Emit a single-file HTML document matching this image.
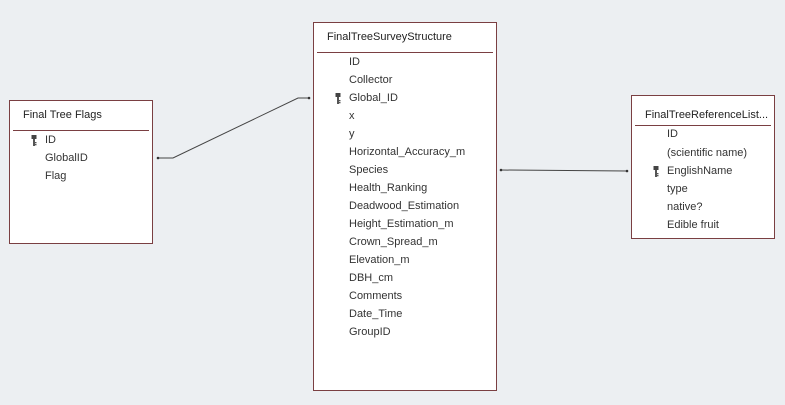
<!DOCTYPE html>
<html><head><meta charset="utf-8"><style>
html,body{margin:0;padding:0;}
body{width:785px;height:405px;background:#eceff2;position:relative;overflow:hidden;font-family:"Liberation Sans",sans-serif;font-size:11px;color:#333;}
.box{position:absolute;background:#fff;border:1px solid #7a3f42;box-sizing:border-box;}
.t{position:absolute;font-size:11px;color:#222;white-space:nowrap;}
.hr{position:absolute;height:1px;background:#7a3f42;}
.r{position:absolute;white-space:nowrap;line-height:14px;}
.k{position:absolute;width:6px;height:11px;}
</style></head><body>
<svg width="785" height="405" style="position:absolute;left:0;top:0">
<polyline points="158,158 173,158 298,98 309,98" fill="none" stroke="#444" stroke-width="1"/>
<circle cx="158" cy="158" r="1.3" fill="#333"/><circle cx="309" cy="98" r="1.3" fill="#333"/>
<line x1="501" y1="170" x2="627" y2="171" stroke="#444" stroke-width="1"/>
<circle cx="501" cy="170" r="1.3" fill="#333"/><circle cx="627" cy="171" r="1.3" fill="#333"/>
</svg>

<div class="box" style="left:9px;top:100px;width:144px;height:144px"></div>
<div class="t" style="left:23px;top:109px">Final Tree Flags</div>
<div class="hr" style="left:13px;top:130px;width:136px"></div>
<svg class="k" style="left:31px;top:135px" viewBox="0 0 6 11"><rect x="0.5" y="0" width="5" height="4" fill="#444"/><rect x="2" y="4" width="2" height="7" fill="#555"/><rect x="4" y="7" width="1.5" height="1.3" fill="#555"/><rect x="4" y="9" width="1.5" height="1.3" fill="#555"/></svg>
<div class="r" style="left:45px;top:133px">ID</div>
<div class="r" style="left:45px;top:151px">GlobalID</div>
<div class="r" style="left:45px;top:169px">Flag</div>

<div class="box" style="left:313px;top:22px;width:184px;height:369px"></div>
<div class="t" style="left:327px;top:31px">FinalTreeSurveyStructure</div>
<div class="hr" style="left:317px;top:52px;width:176px"></div>
<div class="r" style="left:349px;top:55px">ID</div>
<div class="r" style="left:349px;top:73px">Collector</div>
<svg class="k" style="left:335px;top:93px" viewBox="0 0 6 11"><rect x="0.5" y="0" width="5" height="4" fill="#444"/><rect x="2" y="4" width="2" height="7" fill="#555"/><rect x="4" y="7" width="1.5" height="1.3" fill="#555"/><rect x="4" y="9" width="1.5" height="1.3" fill="#555"/></svg>
<div class="r" style="left:349px;top:91px">Global_ID</div>
<div class="r" style="left:349px;top:109px">x</div>
<div class="r" style="left:349px;top:127px">y</div>
<div class="r" style="left:349px;top:145px">Horizontal_Accuracy_m</div>
<div class="r" style="left:349px;top:163px">Species</div>
<div class="r" style="left:349px;top:181px">Health_Ranking</div>
<div class="r" style="left:349px;top:199px">Deadwood_Estimation</div>
<div class="r" style="left:349px;top:217px">Height_Estimation_m</div>
<div class="r" style="left:349px;top:235px">Crown_Spread_m</div>
<div class="r" style="left:349px;top:253px">Elevation_m</div>
<div class="r" style="left:349px;top:271px">DBH_cm</div>
<div class="r" style="left:349px;top:289px">Comments</div>
<div class="r" style="left:349px;top:307px">Date_Time</div>
<div class="r" style="left:349px;top:325px">GroupID</div>

<div class="box" style="left:631px;top:95px;width:144px;height:144px"></div>
<div class="t" style="left:645px;top:109px">FinalTreeReferenceList...</div>
<div class="hr" style="left:635px;top:125px;width:136px"></div>
<div class="r" style="left:667px;top:127px">ID</div>
<div class="r" style="left:667px;top:146px">(scientific name)</div>
<svg class="k" style="left:653px;top:166px" viewBox="0 0 6 11"><rect x="0.5" y="0" width="5" height="4" fill="#444"/><rect x="2" y="4" width="2" height="7" fill="#555"/><rect x="4" y="7" width="1.5" height="1.3" fill="#555"/><rect x="4" y="9" width="1.5" height="1.3" fill="#555"/></svg>
<div class="r" style="left:667px;top:164px">EnglishName</div>
<div class="r" style="left:667px;top:182px">type</div>
<div class="r" style="left:667px;top:200px">native?</div>
<div class="r" style="left:667px;top:218px">Edible fruit</div>
</body></html>
